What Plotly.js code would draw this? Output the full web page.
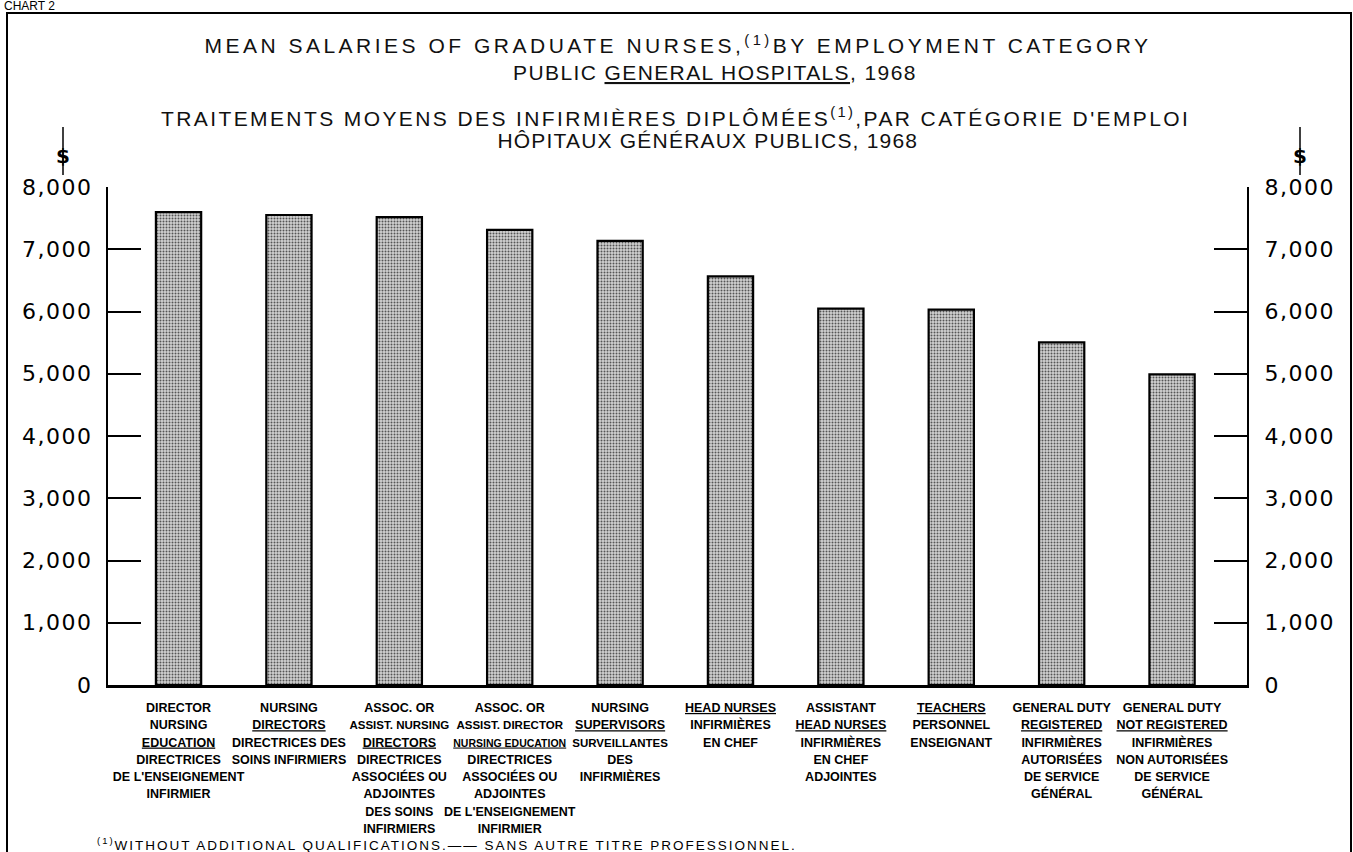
<!DOCTYPE html>
<html><head><meta charset="utf-8">
<script src="https://cdn.plot.ly/plotly-3.0.1.min.js"></script>
<style>
html,body{margin:0;padding:0;background:#fff;}
#chart{width:1353px;height:852px;}
.gtitle{letter-spacing:3.5px;}
.annotation[data-index="0"] text{letter-spacing:1.4px;}
.annotation[data-index="1"] text{letter-spacing:2.4px;}
.annotation[data-index="2"] text{letter-spacing:1.2px;}
.annotation[data-index="3"] text{letter-spacing:2px;}
.ytick text,.y2tick text{letter-spacing:1.5px;}
</style></head><body><div id="chart"></div>
<script>
// ---- data ----
const categoriesEn = [
  ["DIRECTOR","NURSING","EDUCATION"],
  ["NURSING","DIRECTORS"],
  ["ASSOC. OR","ASSIST. NURSING","DIRECTORS"],
  ["ASSOC. OR","ASSIST. DIRECTOR","NURSING EDUCATION"],
  ["NURSING","SUPERVISORS"],
  ["HEAD NURSES"],
  ["ASSISTANT","HEAD NURSES"],
  ["TEACHERS"],
  ["GENERAL DUTY","REGISTERED"],
  ["GENERAL DUTY","NOT REGISTERED"]
];
const categoriesFr = [
  ["DIRECTRICES","DE L'ENSEIGNEMENT","INFIRMIER"],
  ["DIRECTRICES DES","SOINS INFIRMIERS"],
  ["DIRECTRICES","ASSOCIÉES OU","ADJOINTES","DES SOINS","INFIRMIERS"],
  ["DIRECTRICES","ASSOCIÉES OU","ADJOINTES","DE L'ENSEIGNEMENT","INFIRMIER"],
  ["SURVEILLANTES","DES","INFIRMIÈRES"],
  ["INFIRMIÈRES","EN CHEF"],
  ["INFIRMIÈRES","EN CHEF","ADJOINTES"],
  ["PERSONNEL","ENSEIGNANT"],
  ["INFIRMIÈRES","AUTORISÉES","DE SERVICE","GÉNÉRAL"],
  ["INFIRMIÈRES","NON AUTORISÉES","DE SERVICE","GÉNÉRAL"]
];
const meanSalaries = [7595, 7550, 7515, 7310, 7135, 6565, 6045, 6030, 5505, 4990];
const yTickValues = [0, 1000, 2000, 3000, 4000, 5000, 6000, 7000, 8000];
const yTickLabels = ["0", "1,000", "2,000", "3,000", "4,000", "5,000", "6,000", "7,000", "8,000"];
const titleEn1 = "MEAN SALARIES OF GRADUATE NURSES,<sup>(1)</sup>BY EMPLOYMENT CATEGORY";
const titleEn2 = "PUBLIC <span style=\"text-decoration:underline\">GENERAL HOSPITALS</span>, 1968";
const titleFr1 = "TRAITEMENTS MOYENS DES INFIRMIÈRES DIPLÔMÉES<sup>(1)</sup>,PAR CATÉGORIE D'EMPLOI";
const titleFr2 = "HÔPITAUX GÉNÉRAUX PUBLICS, 1968";
const footnote = "<sup>(1)</sup>WITHOUT ADDITIONAL QUALIFICATIONS.—— SANS AUTRE TITRE PROFESSIONNEL.";
const chartLabel = "CHART 2";
const unitLabel = "$";

// ---- style helpers (not data) ----
const labelGlyphSize = 12.5;
const condensedLineSize = {"ASSIST. NURSING": 11.5, "ASSIST. DIRECTOR": 11.5, "NURSING EDUCATION": 10.5, "SURVEILLANTES": 11.5};
function labelLine(t, underline) {
  const s = condensedLineSize[t] || labelGlyphSize;
  return '<span style="font-size:' + s + 'px' + (underline ? ';text-decoration:underline' : '') + '">' + t + '</span>';
}

// ---- build ----
const idx = meanSalaries.map((_, i) => i);
const tickText = categoriesEn.map((en, i) => {
  const enLines = en.map((t, j) => labelLine(t, j === en.length - 1));
  const frLines = categoriesFr[i].map(t => labelLine(t, false));
  return enLines.concat(frLines).join('<br>');
});

const PL = 108, PR = 1247, PT = 187, PB = 685, W = 1353, H = 852;
const px = x => (x - PL) / (PR - PL);
const py = y => (PB - y) / (PB - PT);

const labelFont = {family: "'Liberation Sans', Arial, sans-serif", size: 13.3, color: '#000', weight: 700};
const numFont = {family: "'DejaVu Sans', sans-serif", size: 22, color: '#000'};
const titleFont = {family: "'Liberation Sans', Arial, sans-serif", size: 21, color: '#111'};
const smallFont = {family: "'Liberation Sans', Arial, sans-serif", size: 13.5, color: '#000'};

const bars = {
  type: 'bar', x: idx, y: meanSalaries, width: 0.41,
  marker: {
    color: '#cccccc',
    pattern: {shape: '.', fgcolor: '#555555', bgcolor: '#d2d2d2', size: 3, solidity: 0.35},
    line: {color: '#000', width: 2.2}
  },
  hoverinfo: 'y', showlegend: false
};
const rightAxisCarrier = {
  type: 'scatter', x: idx, y: meanSalaries, yaxis: 'y2', mode: 'markers',
  marker: {opacity: 0}, hoverinfo: 'skip', showlegend: false
};

const yCommon = {
  range: [0, 8000], tickvals: yTickValues, ticktext: yTickLabels,
  ticks: 'inside', ticklen: 33, tickwidth: 2, tickcolor: '#000',
  showline: true, linewidth: 2, linecolor: '#000',
  showgrid: false, zeroline: false, tickfont: numFont, fixedrange: true
};

const layout = {
  width: W, height: H,
  margin: {l: PL, r: W - PR, t: PT, b: H - PB},
  paper_bgcolor: '#fff', plot_bgcolor: '#fff', showlegend: false,
  title: {text: titleEn1, x: 678 / W, xref: 'container', xanchor: 'center', y: 1 - 46 / H, yref: 'container', yanchor: 'middle', font: titleFont},
  xaxis: {
    range: [-0.639, 9.679], tickvals: idx, ticktext: tickText, ticks: '',
    showline: true, linewidth: 3, linecolor: '#000', showgrid: false, zeroline: false,
    tickfont: labelFont, ticklabelstandoff: 8, fixedrange: true, tickangle: 0
  },
  yaxis: Object.assign({side: 'left', ticklabelstandoff: 9}, yCommon),
  yaxis2: Object.assign({side: 'right', overlaying: 'y', anchor: 'x', ticklabelstandoff: 11}, yCommon),
  annotations: [
    {text: titleEn2, x: px(715), y: py(72), xref: 'paper', yref: 'paper', showarrow: false, xanchor: 'center', yanchor: 'middle', font: titleFont},
    {text: titleFr1, x: px(675), y: py(117), xref: 'paper', yref: 'paper', showarrow: false, xanchor: 'center', yanchor: 'middle', font: titleFont},
    {text: titleFr2, x: px(708), y: py(141), xref: 'paper', yref: 'paper', showarrow: false, xanchor: 'center', yanchor: 'middle', font: titleFont},
    {text: footnote, x: px(447), y: py(844), xref: 'paper', yref: 'paper', showarrow: false, xanchor: 'center', yanchor: 'middle', font: smallFont},
    {text: chartLabel, x: px(2), y: py(6), xref: 'paper', yref: 'paper', showarrow: false, xanchor: 'left', yanchor: 'middle', font: {family: "'Liberation Sans', Arial, sans-serif", size: 12, color: '#000'}},
    {text: unitLabel, x: px(63), y: py(156), xref: 'paper', yref: 'paper', showarrow: false, xanchor: 'center', yanchor: 'middle', font: {family: "'DejaVu Sans', sans-serif", size: 20, color: '#000', weight: 700}},
    {text: unitLabel, x: px(1300), y: py(156), xref: 'paper', yref: 'paper', showarrow: false, xanchor: 'center', yanchor: 'middle', font: {family: "'DejaVu Sans', sans-serif", size: 20, color: '#000', weight: 700}}
  ],
  shapes: [
    {type: 'rect', xref: 'paper', yref: 'paper', x0: px(7), x1: px(1351), y0: py(880), y1: py(13), line: {color: '#000', width: 2}, fillcolor: 'rgba(0,0,0,0)'},
    {type: 'line', xref: 'paper', yref: 'paper', x0: px(63), x1: px(63), y0: py(127), y1: py(175), line: {color: '#000', width: 1.5}},
    {type: 'line', xref: 'paper', yref: 'paper', x0: px(1300), x1: px(1300), y0: py(127), y1: py(175), line: {color: '#000', width: 1.5}}
  ]
};

Plotly.newPlot('chart', [bars, rightAxisCarrier], layout, {displayModeBar: false, staticPlot: true});
</script></body></html>
